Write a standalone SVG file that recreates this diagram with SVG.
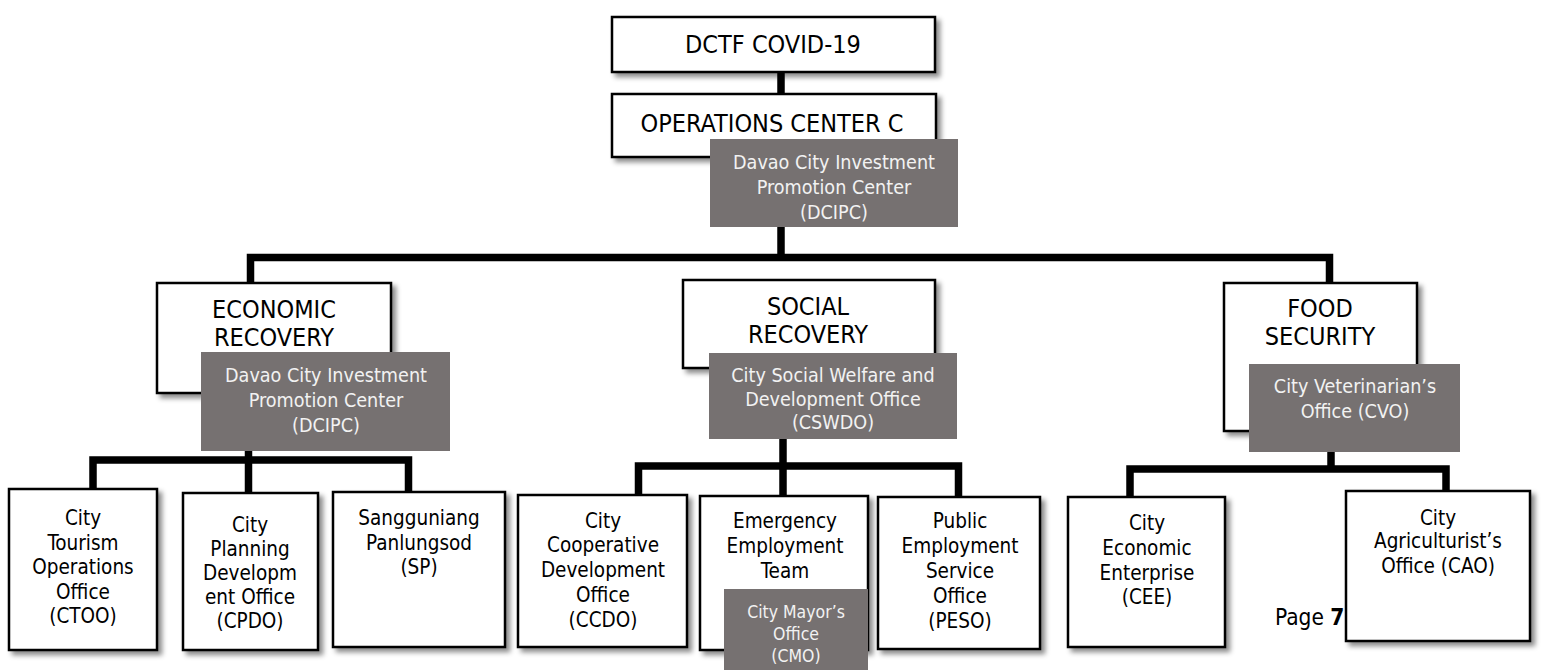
<svg xmlns="http://www.w3.org/2000/svg" width="1541" height="670" viewBox="0 0 1541 670">
<defs>
<filter id="sh" x="-10%" y="-10%" width="130%" height="130%">
<feDropShadow dx="4" dy="4" stdDeviation="2.5" flood-color="#000" flood-opacity="0.45"/>
</filter>
<style>
.box{fill:#fff;stroke:#000;stroke-width:2.5;filter:url(#sh)}
.lead{fill:#767171}
.conn{fill:none;stroke:#000;stroke-width:7.5;stroke-linejoin:miter;stroke-linecap:butt}
text{font-family:"DejaVu Sans Condensed","DejaVu Sans",sans-serif;text-anchor:middle}
.big{font-size:25px;fill:#000}
.sm{font-size:20.5px;fill:#000}
.gw{font-size:19.6px;fill:#f2f2f2}
.gs{font-size:17.5px;fill:#f2f2f2}
.pg{font-size:22.5px;fill:#000;text-anchor:start}
</style>
</defs>
<rect width="1541" height="670" fill="#fff"/>
<g id="connectors">
<path class="conn" d="M781,72 V94"/>
<path class="conn" d="M781,226 V257"/>
<path class="conn" d="M250.5,283 V257.5 H1329.5 V283"/>
<path class="conn" d="M93,489 V460 H408.5 V492"/>
<path class="conn" d="M248.5,451 V493"/>
<path class="conn" d="M638.5,495 V466 H958.5 V497"/>
<path class="conn" d="M783,439 V496"/>
<path class="conn" d="M1130,497 V469 H1446 V491"/>
<path class="conn" d="M1331,452 V469"/>
</g>
<g id="dctf">
<rect class="box" x="612" y="17" width="323" height="55"/>
<text class="big" x="773" y="53">DCTF COVID-19</text>
</g>
<g id="opcenter">
<rect class="box" x="612" y="94" width="324" height="63"/>
<text class="big" x="772" y="132">OPERATIONS CENTER C</text>
</g>
<g id="opcenter-lead">
<rect class="lead" x="710" y="139" width="248" height="88"/>
<text class="gw" x="834"><tspan x="834" y="169">Davao City Investment</tspan><tspan x="834" y="194">Promotion Center</tspan><tspan x="834" y="219">(DCIPC)</tspan></text>
</g>
<g id="economic">
<rect class="box" x="157" y="283" width="234" height="110"/>
<text class="big" x="274"><tspan x="274" y="318">ECONOMIC</tspan><tspan x="274" y="346">RECOVERY</tspan></text>
</g>
<g id="economic-lead">
<rect class="lead" x="201" y="352" width="249" height="99"/>
<text class="gw" x="326"><tspan x="326" y="382">Davao City Investment</tspan><tspan x="326" y="407">Promotion Center</tspan><tspan x="326" y="432">(DCIPC)</tspan></text>
</g>
<g id="social">
<rect class="box" x="683" y="280" width="252" height="88"/>
<text class="big" x="808"><tspan x="808" y="315">SOCIAL</tspan><tspan x="808" y="343">RECOVERY</tspan></text>
</g>
<g id="social-lead">
<rect class="lead" x="709" y="353" width="248" height="86"/>
<text class="gw" x="833"><tspan x="833" y="382">City Social Welfare and</tspan><tspan x="833" y="406">Development Office</tspan><tspan x="833" y="429">(CSWDO)</tspan></text>
</g>
<g id="food">
<rect class="box" x="1224" y="283" width="193" height="148"/>
<text class="big" x="1320"><tspan x="1320" y="317">FOOD</tspan><tspan x="1320" y="345">SECURITY</tspan></text>
</g>
<g id="food-lead">
<rect class="lead" x="1249" y="364" width="211" height="88"/>
<text class="gw" x="1355"><tspan x="1355" y="393">City Veterinarian’s</tspan><tspan x="1355" y="418">Office (CVO)</tspan></text>
</g>
<g id="ctoo">
<rect class="box" x="9" y="489" width="148" height="161"/>
<text class="sm" x="83"><tspan x="83" y="525">City</tspan><tspan x="83" y="549.5">Tourism</tspan><tspan x="83" y="574">Operations</tspan><tspan x="83" y="598.5">Office</tspan><tspan x="83" y="623">(CTOO)</tspan></text>
</g>
<g id="cpdo">
<rect class="box" x="183" y="493" width="135" height="157"/>
<text class="sm" x="250"><tspan x="250" y="532">City</tspan><tspan x="250" y="556">Planning</tspan><tspan x="250" y="580">Developm</tspan><tspan x="250" y="604">ent Office</tspan><tspan x="250" y="628">(CPDO)</tspan></text>
</g>
<g id="sp">
<rect class="box" x="333" y="492" width="172" height="155"/>
<text class="sm" x="419"><tspan x="419" y="525">Sangguniang</tspan><tspan x="419" y="550">Panlungsod</tspan><tspan x="419" y="574">(SP)</tspan></text>
</g>
<g id="ccdo">
<rect class="box" x="518" y="495" width="169" height="152"/>
<text class="sm" x="603"><tspan x="603" y="528">City</tspan><tspan x="603" y="552">Cooperative</tspan><tspan x="603" y="577">Development</tspan><tspan x="603" y="602">Office</tspan><tspan x="603" y="627">(CCDO)</tspan></text>
</g>
<g id="eet">
<rect class="box" x="700" y="496" width="168" height="154"/>
<text class="sm" x="785"><tspan x="785" y="528">Emergency</tspan><tspan x="785" y="553">Employment</tspan><tspan x="785" y="578">Team</tspan></text>
</g>
<g id="eet-lead">
<rect class="lead" x="724" y="589" width="144" height="81"/>
<text class="gs" x="796"><tspan x="796" y="618">City Mayor’s</tspan><tspan x="796" y="640">Office</tspan><tspan x="796" y="662">(CMO)</tspan></text>
</g>
<g id="peso">
<rect class="box" x="878" y="497" width="162" height="152"/>
<text class="sm" x="960"><tspan x="960" y="528">Public</tspan><tspan x="960" y="553">Employment</tspan><tspan x="960" y="578">Service</tspan><tspan x="960" y="603">Office</tspan><tspan x="960" y="628">(PESO)</tspan></text>
</g>
<g id="cee">
<rect class="box" x="1068" y="497" width="157" height="150"/>
<text class="sm" x="1147"><tspan x="1147" y="530">City</tspan><tspan x="1147" y="555">Economic</tspan><tspan x="1147" y="580">Enterprise</tspan><tspan x="1147" y="604">(CEE)</tspan></text>
</g>
<text class="pg" x="1275" y="625">Page <tspan font-weight="bold">7</tspan></text>
<g id="cao">
<rect class="box" x="1346" y="491" width="184" height="150"/>
<text class="sm" x="1438"><tspan x="1438" y="525">City</tspan><tspan x="1438" y="548">Agriculturist’s</tspan><tspan x="1438" y="573">Office (CAO)</tspan></text>
</g>
</svg>
